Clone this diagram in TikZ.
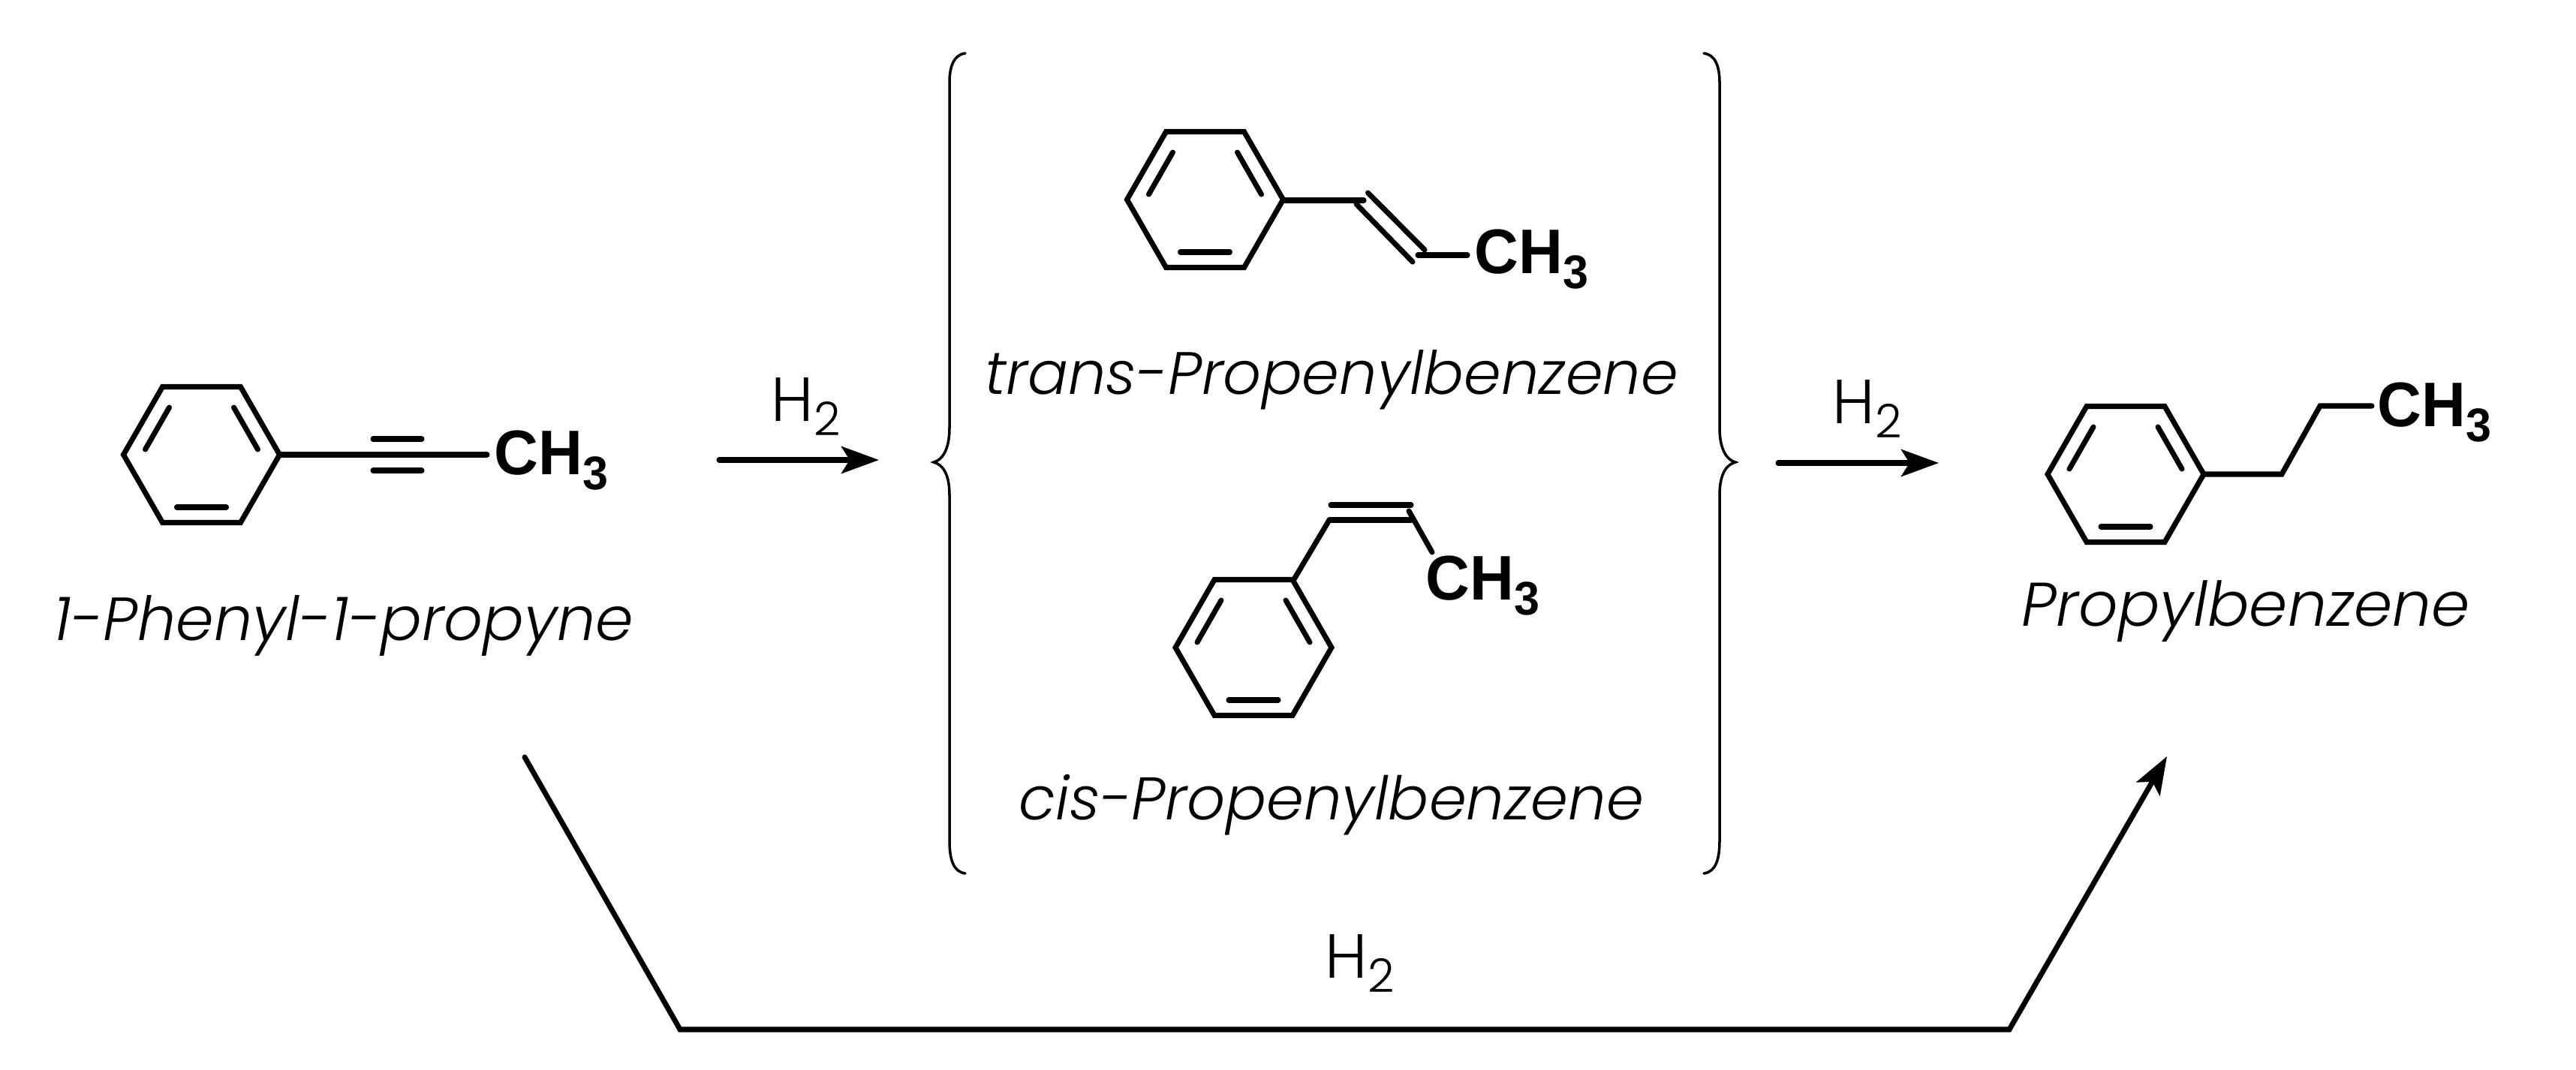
\documentclass[tikz,border=0pt]{standalone}
\usepackage{fontspec}
\usetikzlibrary{arrows.meta}
\newfontfamily\chemfont[BoldFeatures={FakeStretch=0.97}]{Liberation Sans}
\newfontfamily\namefont{Poppins Light}[ItalicFont=Poppins Light Italic]
\newcommand{\methyl}{{\chemfont\bfseries\fontsize{23.9}{24}\selectfont CH\raisebox{-2mm}{\fontsize{17.9}{18}\selectfont 3}}}
\newcommand{\hydrogen}{{\namefont\fontsize{23.6}{24}\selectfont H\raisebox{-1.9mm}{\fontsize{17.6}{18}\selectfont 2}}}
\newcommand{\benzene}[2]{
    \begin{scope}[shift={(#1,#2)}]
        \draw[bond,line join=miter] (1.04,0) -- (0.52,0.905) -- (-0.52,0.905) -- (-1.04,0)
            -- (-0.52,-0.905) -- (0.52,-0.905) -- cycle;
        \draw[dbond] (-0.43,0.63) -- (-0.75,0.07);
        \draw[dbond] (0.43,0.63) -- (0.75,0.07);
        \draw[dbond] (-0.33,-0.70) -- (0.33,-0.70);
    \end{scope}
}
\tikzset{
    bond/.style={line width=2pt},
    dbond/.style={line width=2pt,line cap=round},
    brace/.style={line width=1pt,line cap=round},
    react/.style={line width=2pt,line cap=round,-{Stealth[length=5mm,width=3.6mm,inset=1.1mm]}},
    formula/.style={anchor=base west,inner sep=0pt},
    compound/.style={anchor=base,inner sep=0pt,font=\namefont\itshape\fontsize{#1}{24}\selectfont},
}

\begin{document}
\begin{tikzpicture}
    \useasboundingbox (0,0) rectangle (34.32,14.25);

    % 1-phenyl-1-propyne
    \benzene{2.685}{8.19}
    \draw[dbond] (3.72,8.19) -- (6.49,8.19);
    \draw[dbond] (4.97,8.40) -- (5.62,8.40);
    \draw[dbond] (4.97,7.98) -- (5.62,7.98);
    \node[formula] (methylA) at (6.58,7.93) {\methyl};
    \node[compound=23.1] (propyne) at (4.58,5.72) {1-Phenyl-1-propyne};

    % trans
    \benzene{16.055}{11.59}
    \draw[dbond] (17.10,11.58) -- (18.17,11.58);
    \draw[dbond] (18.225,11.68) -- (18.98,10.92);
    \draw[dbond] (18.07,11.53) -- (18.82,10.76);
    \draw[dbond] (18.89,10.85) -- (19.55,10.85);
    \node[formula] (methylB) at (19.64,10.60) {\methyl};
    \node[compound=22.7] (trans) at (17.74,8.99) {trans-Propenylbenzene};

    % cis
    \benzene{16.70}{5.62}
    \draw[dbond] (17.24,6.53) -- (17.71,7.32);
    \draw[dbond] (17.73,7.52) -- (18.80,7.52);
    \draw[dbond] (17.71,7.32) -- (18.80,7.32);
    \draw[dbond] (18.77,7.44) -- (19.08,6.89);
    \node[formula] (methylC) at (18.99,6.26) {\methyl};
    \node[compound=22.8] (cis) at (17.74,3.33) {cis-Propenylbenzene};

    % propylbenzene
    \benzene{28.32}{7.93}
    \draw[dbond] (29.36,7.93) -- (30.40,7.93) -- (30.91,8.84) -- (31.60,8.84);
    \node[formula] (methylD) at (31.67,8.56) {\methyl};
    \node[compound=23.4] (propyl) at (29.92,5.91) {Propylbenzene};

    % braces
    \draw[brace] (12.86,13.54) .. controls (12.70,13.52) and (12.65,13.35) .. (12.65,13.15)
        -- (12.65,8.55) .. controls (12.65,8.25) and (12.55,8.12) .. (12.44,8.09)
        .. controls (12.55,8.06) and (12.65,7.95) .. (12.65,7.65)
        -- (12.65,3.05) .. controls (12.65,2.80) and (12.70,2.63) .. (12.86,2.61);
    \draw[brace] (22.70,13.54) .. controls (22.86,13.52) and (22.91,13.35) .. (22.91,13.15)
        -- (22.91,8.55) .. controls (22.91,8.25) and (23.01,8.12) .. (23.12,8.09)
        .. controls (23.01,8.06) and (22.91,7.95) .. (22.91,7.65)
        -- (22.91,3.05) .. controls (22.91,2.80) and (22.86,2.63) .. (22.70,2.61);

    % reaction arrows
    \coordinate (arrowAs) at (9.58,8.12);
    \coordinate (arrowAe) at (11.71,8.12);
    \coordinate (arrowBs) at (23.69,8.08);
    \coordinate (arrowBe) at (25.83,8.08);
    \coordinate (longs) at (6.99,4.16);
    \coordinate (longa) at (9.06,0.53);
    \coordinate (longb) at (26.77,0.53);
    \coordinate (longe) at (28.87,4.17);
    \draw[react] (arrowAs) -- (arrowAe);
    \draw[react] (arrowBs) -- (arrowBe);
    \draw[react,line join=miter] (longs) -- (longa) -- (longb) -- (longe);

    \node[formula] (hydA) at (10.27,8.64) {\hydrogen};
    \node[formula] (hydB) at (24.41,8.60) {\hydrogen};
    \node[formula] (hydC) at (17.65,1.22) {\hydrogen};
\end{tikzpicture}
\end{document}
